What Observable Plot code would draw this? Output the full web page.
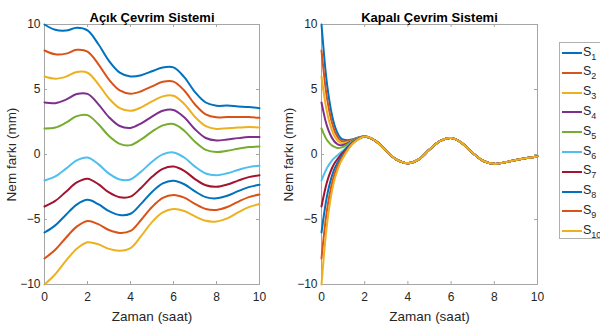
<!DOCTYPE html>
<html>
<head>
<meta charset="utf-8">
<script src="https://cdn.jsdelivr.net/npm/d3@7"></script>
<script src="https://cdn.jsdelivr.net/npm/@observablehq/plot@0.6"></script>
<style>
  html, body { margin: 0; padding: 0; background: #fff; overflow: hidden; }
  #wrap { position: relative; width: 600px; height: 325px; overflow: hidden; font-family: "Liberation Sans", Arial, sans-serif; }
  .panel { position: absolute; top: 0; }
  #legend { position: absolute; left: 559px; top: 42px; width: 60px; height: 197px; border: 1px solid #b0b0b0; background: #fff; box-sizing: border-box; }
  .item { position: absolute; left: 2px; height: 20px; display: flex; align-items: center; font-size: 12.5px; color: #262626; white-space: nowrap; }
  .swatch { width: 20px; height: 0; border-top: 2px solid; margin-right: 1px; }
  .item sub { font-size: 9px; vertical-align: -4px; }
</style>
</head>
<body>
<div id="wrap">
  <div class="panel" id="p1" style="left:0px"></div>
  <div class="panel" id="p2" style="left:277px"></div>
  <div id="legend"></div>
</div>
<script>
// ---- data ----
const seriesNames = ["S1","S2","S3","S4","S5","S6","S7","S8","S9","S10"];
const seriesColors = ["#0072BD","#D95319","#EDB120","#7E2F8E","#77AC30","#4DBEEE","#A2142F","#0072BD","#D95319","#EDB120"];
const xTicks = [0, 2, 4, 6, 8, 10];
const yTicks = [-10, -5, 0, 5, 10];

// Open loop (left): time grid and readings
const openT = [0,0.5,1,1.5,2,2.5,3,3.5,4,4.5,5,5.5,6,6.5,7,7.5,8,8.5,9,9.5,10];
const openS1  = [10, 9.59, 9.53, 9.75, 9.55, 8.5, 7.2, 6.3, 6.0, 6.1, 6.4, 6.7, 6.7, 5.95, 4.8, 4.0, 3.75, 3.76, 3.7, 3.65, 3.56];
const openS2  = [8, 7.71, 7.76, 8.05, 7.92, 6.96, 5.76, 4.93, 4.68, 4.87, 5.24, 5.59, 5.61, 4.92, 3.85, 3.09, 2.86, 2.89, 2.89, 2.88, 2.82];
const openS3  = [6, 5.83, 5.99, 6.35, 6.29, 5.42, 4.31, 3.56, 3.36, 3.63, 4.08, 4.47, 4.52, 3.89, 2.89, 2.18, 1.97, 2.02, 2.07, 2.11, 2.08];
const openS4  = [4, 3.95, 4.22, 4.65, 4.66, 3.88, 2.87, 2.19, 2.04, 2.40, 2.92, 3.36, 3.43, 2.86, 1.94, 1.27, 1.08, 1.16, 1.26, 1.34, 1.35];
const openS5  = [2, 2.07, 2.45, 2.95, 3.03, 2.34, 1.42, 0.82, 0.72, 1.16, 1.76, 2.24, 2.34, 1.83, 0.98, 0.36, 0.19, 0.29, 0.44, 0.57, 0.61];
const openS6  = [-2, -1.69, -1.09, -0.45, -0.23, -0.74, -1.47, -1.92, -1.92, -1.31, -0.56, 0.01, 0.16, -0.23, -0.93, -1.46, -1.59, -1.44, -1.19, -0.97, -0.86];
const openS7  = [-4, -3.57, -2.86, -2.15, -1.86, -2.28, -2.92, -3.29, -3.24, -2.55, -1.72, -1.11, -0.93, -1.26, -1.89, -2.37, -2.48, -2.31, -2.01, -1.74, -1.6];
const openS8  = [-6, -5.45, -4.63, -3.85, -3.49, -3.82, -4.36, -4.66, -4.56, -3.78, -2.88, -2.22, -2.02, -2.29, -2.84, -3.28, -3.37, -3.17, -2.82, -2.51, -2.33];
const openS9  = [-8, -7.33, -6.4, -5.55, -5.12, -5.36, -5.81, -6.03, -5.88, -5.02, -4.04, -3.34, -3.11, -3.32, -3.8, -4.19, -4.26, -4.04, -3.64, -3.28, -3.07];
const openS10 = [-10, -9.21, -8.17, -7.25, -6.75, -6.9, -7.26, -7.4, -7.2, -6.26, -5.2, -4.46, -4.2, -4.35, -4.76, -5.1, -5.15, -4.91, -4.46, -4.05, -3.81];

// Closed loop (right): early transient per series, then common tail
const closedEarlyT = [0,0.1,0.2,0.3,0.4,0.5,0.6,0.7,0.8,0.9,1.0,1.2,1.4,1.6,1.8];
const closedS1  = [10, 8.01, 6.22, 4.85, 3.78, 2.92, 2.26, 1.80, 1.46, 1.25, 1.15, 1.10, 1.15, 1.25, 1.35];
const closedS2  = [8, 6.41, 4.98, 3.89, 3.04, 2.36, 1.84, 1.48, 1.22, 1.07, 1.01, 1.02, 1.11, 1.23, 1.34];
const closedS3  = [6, 4.81, 3.74, 2.93, 2.30, 1.80, 1.42, 1.16, 0.98, 0.89, 0.87, 0.94, 1.07, 1.21, 1.33];
const closedS4  = [4, 3.21, 2.50, 1.97, 1.56, 1.24, 1.00, 0.84, 0.74, 0.71, 0.73, 0.86, 1.03, 1.19, 1.32];
const closedS5  = [2, 1.61, 1.26, 1.01, 0.82, 0.68, 0.58, 0.52, 0.50, 0.53, 0.59, 0.78, 0.99, 1.17, 1.31];
const closedS6  = [-2, -1.59, -1.22, -0.91, -0.66, -0.44, -0.26, -0.12, 0.02, 0.17, 0.31, 0.62, 0.91, 1.13, 1.29];
const closedS7  = [-4, -3.19, -2.46, -1.87, -1.40, -1.0, -0.68, -0.44, -0.22, -0.01, 0.17, 0.54, 0.87, 1.11, 1.28];
const closedS8  = [-6, -4.79, -3.70, -2.83, -2.14, -1.56, -1.10, -0.76, -0.46, -0.19, 0.03, 0.46, 0.83, 1.09, 1.27];
const closedS9  = [-8, -6.39, -4.94, -3.79, -2.88, -2.12, -1.52, -1.08, -0.70, -0.37, -0.11, 0.38, 0.79, 1.07, 1.26];
const closedS10 = [-10, -7.99, -6.18, -4.75, -3.62, -2.68, -1.94, -1.40, -0.94, -0.55, -0.25, 0.30, 0.75, 1.05, 1.25];
const closedTailT = [2,2.5,3,3.5,4,4.5,5,5.5,6,6.5,7,7.5,8,8.5,9,9.5,10];
const closedTail  = [1.38, 1.05, 0.28, -0.42, -0.67, -0.38, 0.38, 1.05, 1.26, 0.88, 0.12, -0.5, -0.72, -0.6, -0.42, -0.27, -0.15];

// ---- tidy tables ----
const openAll = [openS1,openS2,openS3,openS4,openS5,openS6,openS7,openS8,openS9,openS10];
const closedAll = [closedS1,closedS2,closedS3,closedS4,closedS5,closedS6,closedS7,closedS8,closedS9,closedS10];
const openData = openAll.flatMap((arr, i) => arr.map((v, j) => ({s: seriesNames[i], t: openT[j], v})));
const closedData = closedAll.flatMap((arr, i) => [
  ...arr.map((v, j) => ({s: seriesNames[i], t: closedEarlyT[j], v})),
  ...closedTail.map((v, j) => ({s: seriesNames[i], t: closedTailT[j], v}))
]);

const font = "'Liberation Sans', Arial, sans-serif";
const W = 275, H = 325, mT = 24, mB = 41;

function panel(data, title, mL, mR) {
  const fw = W - mL - mR, fh = H - mT - mB;
  return Plot.plot({
    width: W, height: H,
    marginLeft: mL, marginRight: mR, marginTop: mT, marginBottom: mB,
    style: {fontFamily: font, fontSize: "12px", color: "#262626", background: "transparent", overflow: "visible"},
    x: {domain: [0, 10]},
    y: {domain: [-10, 10]},
    color: {domain: seriesNames, range: seriesColors},
    marks: [
      Plot.frame({stroke: "#a6a6a6", strokeWidth: 1}),
      Plot.tickX(xTicks, {x: d => d, insetTop: fh - 3, stroke: "#a6a6a6"}),
      Plot.tickX(xTicks, {x: d => d, insetBottom: fh - 3, stroke: "#a6a6a6"}),
      Plot.tickY(yTicks, {y: d => d, insetRight: fw - 3, stroke: "#a6a6a6"}),
      Plot.tickY(yTicks, {y: d => d, insetLeft: fw - 3, stroke: "#a6a6a6"}),
      Plot.axisX({ticks: xTicks, tickSize: 0, tickPadding: 8, fontSize: 12,
        label: "Zaman (saat)", labelAnchor: "center", labelArrow: "none", labelOffset: 36}),
      Plot.axisY({ticks: yTicks, tickSize: 0, tickPadding: 4, fontSize: 12,
        label: "Nem farkı (mm)", labelAnchor: "center", labelArrow: "none", labelOffset: 38}),
      Plot.line(data, {x: "t", y: "v", z: "s", stroke: "s", strokeWidth: 2, curve: "catmull-rom"}),
      Plot.text([title], {frameAnchor: "top", dy: -12, fontWeight: "bold", fontSize: 13, fill: "#000"})
    ]
  });
}

const p1 = panel(openData, "Açık Çevrim Sistemi", 44, 16);
const p2 = panel(closedData, "Kapalı Çevrim Sistemi", 44, 15);
document.getElementById("p1").append(p1);
document.getElementById("p2").append(p2);

// style axis labels larger
for (const svg of [p1, p2]) {
  svg.querySelectorAll("g[aria-label='x-axis label'] text, g[aria-label='y-axis label'] text").forEach(t => t.setAttribute("font-size", "13.5"));
}

// legend
const legend = document.getElementById("legend");
seriesNames.forEach((name, i) => {
  const it = document.createElement("div");
  it.className = "item";
  it.style.top = (i * 19.8) + "px";
  const sw = document.createElement("span");
  sw.className = "swatch";
  sw.style.borderColor = seriesColors[i];
  it.append(sw);
  const lab = document.createElement("span");
  lab.innerHTML = "S<sub>" + name.slice(1) + "</sub>";
  it.append(lab);
  legend.append(it);
});
</script>
</body>
</html>
